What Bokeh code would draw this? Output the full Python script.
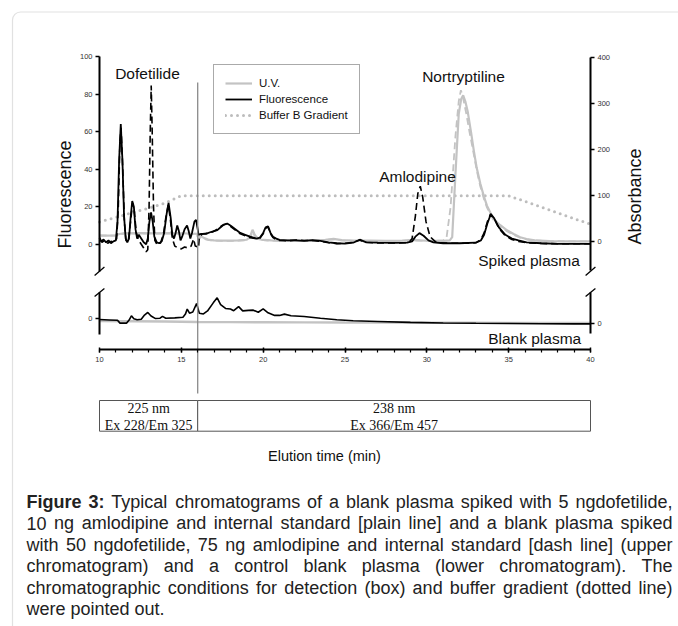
import math
from bokeh.plotting import figure
from bokeh.models import (Range1d, LinearAxis, FixedTicker, SingleIntervalTicker,
                          Legend, LegendItem, BoxAnnotation)
from bokeh.core.properties import value
from bokeh.embed import file_html
from bokeh.resources import INLINE

# ---------------- data ----------------
# upper chromatogram: fluorescence, spiked plasma (low spike, plain line)
FL_PLAIN_T = [10.0, 10.1, 10.25, 10.4, 10.55, 10.7, 10.85, 11.0, 11.1, 11.2, 11.3, 11.4, 11.5, 11.6, 11.7, 11.8,
              11.9, 12.0, 12.1, 12.2, 12.3, 12.4, 12.55, 12.7, 12.85, 12.95, 13.05, 13.15, 13.25, 13.35, 13.5,
              13.65, 13.8, 13.95, 14.1, 14.22, 14.35, 14.45, 14.55, 14.65, 14.75, 14.85, 14.95, 15.05, 15.2,
              15.35, 15.45, 15.55, 15.65, 15.8, 15.9, 16.0, 16.05, 16.2, 16.5, 16.8, 17.0, 17.2, 17.4, 17.6,
              17.8, 18.0, 18.3, 18.6, 18.9, 19.2, 19.4, 19.6, 19.8, 20.0, 20.15, 20.3, 20.45, 20.6, 20.8, 21.0,
              21.5, 22.0, 22.5, 23.0, 23.5, 24.0, 24.5, 25.0, 25.5, 25.9, 26.3, 27.0, 28.0, 28.8, 29.1, 29.3,
              29.55, 29.8, 30.1, 30.4, 31.0, 32.0, 33.0, 33.3, 33.5, 33.7, 33.9, 34.1, 34.4, 34.8, 35.2, 35.6,
              36.1, 37.0, 38.0, 39.0, 40.0]
FL_PLAIN_V = [3.5, 1.5, 2.5, 1, 2, 0.5, 1.5, 2, 12, 45, 64, 45, 15, 3, 1, 3,
              14, 23, 20, 8, 3, 5, 3, 1, 0, 3, 12, 17, 12, 4, 1,
              0.5, 1.5, 6, 16, 22, 14, 5, 3, 6, 10, 7, 2, 4, 8,
              10, 7, 3, 6, 12, 13, 8, 5, 5.5, 5.5, 6.5, 7, 7.5, 9, 10.5,
              11, 10, 8, 6, 5, 4, 3.5, 3, 3.5, 6, 9, 9.5, 6, 4, 3, 2.3,
              2, 2, 1.8, 2.2, 1.8, 1, 0.5, 0.3, 0.8, 2.4, 1, 0.8, 0.7, 0.8, 1.5, 4,
              5.9, 4.5, 2, 1, 0.5, 0.5, 0.8, 2, 5, 11, 15.8, 14, 9, 5, 3, 2,
              1, 0.5, 0.2, 0.2, 0.2]

# upper chromatogram: fluorescence, spiked plasma (high spike, dash line)
FL_DASH_T = [10.0, 10.15, 10.3, 10.5, 10.7, 10.9, 11.05, 11.15, 11.25, 11.32, 11.42, 11.52, 11.62, 11.75, 11.9,
             12.02, 12.12, 12.25, 12.4, 12.55, 12.7, 12.85, 12.95, 13.03, 13.1, 13.16, 13.22, 13.3, 13.38,
             13.5, 13.7, 13.9, 14.05, 14.2, 14.32, 14.45, 14.6, 14.8, 15.0, 15.2, 15.4, 15.6, 15.75, 15.85,
             16.0, 16.05, 16.1, 16.3, 16.6, 16.9, 17.2, 17.5, 17.75, 18.0, 18.3, 18.6, 18.9, 19.2, 19.5,
             19.8, 20.0, 20.15, 20.3, 20.45, 20.6, 20.8, 21.0, 21.5, 22.0, 22.5, 23.0, 23.5, 24.0, 24.5,
             25.0, 25.5, 25.9, 26.3, 27.0, 28.0, 28.9, 29.1, 29.3, 29.45, 29.6, 29.75, 29.95, 30.2, 30.5,
             30.8, 31.5, 32.5, 33.0, 33.3, 33.5, 33.7, 33.9, 34.1, 34.4, 34.8, 35.2, 35.6, 36.1, 37.0, 38.0,
             39.0, 40.0]
FL_DASH_V = [3, 1, 2, 0.5, 1.5, 1, 3, 20, 55, 62, 40, 12, 2, 1, 12,
             22, 18, 6, 2, 0, -2, -4, -3, 20, 60, 84.5, 60, 20, 2,
             0, 0, 5, 14, 21, 14, 3, -1, -2, -2.5, -1.5, -2, -1, 2.8, -1,
             -1.5, -2, 4, 5.5, 5.8, 6.5, 8, 10, 10.8, 9.5, 7.5, 5.5, 4.5, 3.5, 3,
             3.2, 5.5, 8.5, 9.2, 5.5, 3.5, 2.5, 2, 1.8, 2.2, 2, 2.0, 1.5, 0.8, 0.3,
             0.5, 1, 2.2, 1, 0.6, 0.6, 0.8, 3, 15, 27, 30.9, 25, 12, 4, 1.5,
             0.8, 0.5, 0.5, 0.8, 2.5, 6, 12, 16.2, 14, 8.5, 4.5, 2.5, 1.5, 0.8, 0.4, 0.2,
             0.2, 0.2]

# upper chromatogram: U.V. absorbance (plain line)
UV_PLAIN_T = [10.0, 10.5, 11.0, 11.2, 11.5, 12.5, 13.5, 14.5, 15.5, 15.95, 16.05, 16.2, 16.4, 16.7, 17.0, 17.5,
              18.0, 18.5, 19.0, 19.2, 19.35, 19.5, 19.7, 20.0, 20.5, 21.0, 22.0, 23.0, 23.8, 24.3, 24.8,
              25.5, 26.5, 27.5, 28.5, 29.2, 29.6, 30.0, 30.5, 31.0, 31.4, 31.55, 31.75, 31.95, 32.1, 32.22,
              32.35, 32.5, 32.7, 32.87, 33.05, 33.27, 33.5, 33.68, 33.9, 34.08, 34.3, 34.49, 34.9, 35.3,
              35.7, 36.1, 36.6, 37.5, 38.5, 40.0]
UV_PLAIN_V = [14, 13.5, 14, 17, 18.5, 19, 18.5, 19, 18, 17, 8, 12, 8, 4, 3, 2.5,
              2.5, 3, 4.5, 11, 26, 14, 6, 4, 3, 2.5, 2.5, 3, 4.5, 6.5, 3.5,
              2.5, 2.5, 2, 2.5, 4, 3, 2.5, 2, 2, 3, 10, 148, 278, 310, 318,
              305, 282, 238, 198, 160, 126, 97, 78, 62, 50, 42, 36, 25, 17,
              10, 6, 3, 1.5, 1, 1]

# upper chromatogram: U.V. absorbance (dash line)
UV_DASH_T = [10.0, 10.5, 11.0, 11.2, 11.5, 12.5, 13.5, 14.5, 15.5, 15.95, 16.05, 16.2, 16.4, 16.7, 17.0, 17.5,
             18.0, 18.5, 19.0, 19.2, 19.35, 19.5, 19.7, 20.0, 20.5, 21.0, 22.0, 23.0, 23.8, 24.3, 24.8,
             25.5, 26.5, 27.5, 28.5, 29.2, 29.6, 30.0, 30.5, 31.0, 31.2, 31.45, 31.75, 31.95, 32.08, 32.2,
             32.4, 32.6, 32.87, 33.05, 33.27, 33.5, 33.68, 33.9, 34.08, 34.3, 34.49, 34.9, 35.3, 35.7,
             36.1, 36.6, 37.5, 38.5, 40.0]
UV_DASH_V = [13, 13.5, 13.5, 16, 18, 18.5, 18, 18.5, 17.5, 16, 6, 10, 6, 3.5, 2.5, 2,
             2, 2.5, 3.5, 9, 22, 12, 5, 3.5, 2.5, 2, 2, 2.5, 3.5, 5.5, 3,
             2, 2, 2, 2, 3, 2.5, 2, 2, 3, 8, 75, 230, 305, 329, 315,
             280, 240, 190, 155, 120, 92, 74, 58, 47, 39, 33, 23, 15, 9,
             5, 3, 1.5, 1, 1]

# buffer B gradient (%)
GRAD_T = [10.0, 11.0, 12.0, 13.0, 14.0, 14.5, 15.0, 35.0, 40.0]
GRAD_V = [43, 53, 63, 73, 84, 92, 100, 100, 38]

# lower chromatogram: blank plasma
FL_BLANK_T = [10.0, 10.6, 11.1, 11.25, 11.65, 11.8, 11.95, 12.1, 12.3, 12.55, 12.75, 12.95, 13.15, 13.4, 13.7,
              13.85, 14.05, 14.6, 15.1, 15.25, 15.36, 15.5, 15.7, 15.93, 16.1, 16.35, 16.6, 16.95, 17.19,
              17.4, 17.7, 18.0, 18.2, 18.5, 18.75, 19.1, 19.4, 19.7, 20.0, 20.3, 20.7, 21.0, 21.3, 21.7,
              22.5, 23.5, 24.5, 25.5, 27.0, 29.0, 31.0, 33.0, 35.0, 37.0, 39.0, 40.0]
FL_BLANK_V = [-0.4, -0.6, -0.8, -2.3, -2.3, -0.8, 1.6, 0, -0.5, -0.2, 2, 3.4, 1.5, 0.2, 0.3,
              1.3, 0.3, 0.5, 0.8, 2.5, 5.2, 3, 3.6, 8.1, 3, 2.6, 4.2, 8.5, 11.2,
              7.5, 5.5, 5.2, 4.3, 6.5, 4.2, 4.5, 4.6, 3.5, 5.3, 3.2, 1.8, 1.8, 2.5, 1.6,
              1.2, 0.3, -0.5, -1.0, -1.4, -1.9, -2.2, -2.4, -2.5, -2.6, -2.7, -2.7]
UV_BLANK_T = [10.0, 12.0, 14.0, 16.0, 18.0, 20.0, 22.5, 25.0, 27.5, 30.0, 32.5, 35.0, 37.5, 40.0]
UV_BLANK_V = [4.5, 4.2, 3.6, 2.6, 2.3, 2.0, 1.8, 1.5, 1.3, 1.0, 0.9, 0.8, 0.6, 0.5]

# detection windows (box)
DET_START = [10, 16]
DET_END = [16, 40]
DET_LABELS = ["225 nm\nEx 228/Em 325", "238 nm\nEx 366/Em 457"]

FLU_TICKS = [0, 20, 40, 60, 80, 100]
ABS_TICKS = [0, 100, 200, 300, 400]

CAPTION = [
    [("Figure", True), ("3:", True), ("Typical", False), ("chromatograms", False), ("of", False), ("a", False),
     ("blank", False), ("plasma", False), ("spiked", False), ("with", False), ("5", False), ("ngdofetilide,", False)],
    "10 ng amlodipine and internal standard [plain line] and a blank plasma spiked",
    "with 50 ngdofetilide, 75 ng amlodipine and internal standard [dash line] (upper",
    "chromatogram) and a control blank plasma (lower chromatogram). The",
    "chromatographic conditions for detection (box) and buffer gradient (dotted line)",
    "were pointed out.",
]

# ---------------- layout helpers ----------------
W, H = 678, 626
OFF = 0
FONT = "Liberation Sans"

def rng(v0, p0, v1, p1, vertical):
    s = (p1 - p0) / (v1 - v0)
    if vertical:
        return Range1d(start=v0 + (OFF + H - p0) / s, end=v0 + (OFF - p0) / s)
    return Range1d(start=v0 + (OFF - p0) / s, end=v0 + (OFF + W - p0) / s)

p = figure(width=W, height=H, output_backend="svg", toolbar_location=None, tools="",
           x_range=Range1d(OFF, OFF + W), y_range=Range1d(OFF + H, OFF),
           x_axis_location=None, y_axis_location=None, min_border=0, title=None)
p.outline_line_color = None
p.xgrid.visible = False
p.ygrid.visible = False

p.extra_x_ranges = {"time": rng(10, 99, 40, 590, False)}
p.extra_y_ranges = {
    "flu_up": rng(0, 243.7, 100, 56, True),
    "abs_up": rng(0, 241.3, 400, 57, True),
    "flu_low": rng(0, 318.3, 100, 130.6, True),
    "abs_low": rng(0, 322.7, 400, 138.4, True),
}

# frame border of the figure panel
p.add_layout(BoxAnnotation(left=12, right=740, top=11.5, bottom=740, border_radius=8,
                           fill_alpha=0, line_color="#9a9a9a", line_width=1.2))

# ---------------- axes ----------------
def style(ax):
    ax.axis_line_width = 2
    ax.axis_line_color = "black"
    ax.major_label_text_font = FONT
    ax.major_label_text_font_size = "7.5px"
    ax.major_label_text_color = "#333333"
    ax.major_tick_in = 0
    ax.major_tick_out = 4
    ax.major_tick_line_width = 1.5
    ax.minor_tick_line_color = None
    ax.major_label_standoff = 3

ax1 = LinearAxis(x_range_name="time", y_range_name="flu_up", fixed_location=10,
                 bounds=(-14.5, 100), ticker=FixedTicker(ticks=FLU_TICKS))
style(ax1)
p.add_layout(ax1, "left")

ax2 = LinearAxis(x_range_name="time", y_range_name="abs_up", fixed_location=40,
                 bounds=(-62, 400), ticker=FixedTicker(ticks=ABS_TICKS))
style(ax2)
p.add_layout(ax2, "right")

ax3 = LinearAxis(x_range_name="time", y_range_name="flu_low", fixed_location=10,
                 bounds=(-8.4, 14), ticker=FixedTicker(ticks=[0]))
style(ax3)
p.add_layout(ax3, "left")

ax4 = LinearAxis(x_range_name="time", y_range_name="abs_low", fixed_location=40,
                 bounds=(-22.4, 66), ticker=FixedTicker(ticks=[0]))
style(ax4)
p.add_layout(ax4, "right")

axb = LinearAxis(x_range_name="time", fixed_location=349.3, bounds=(10, 40),
                 ticker=SingleIntervalTicker(interval=5, num_minor_ticks=5))
style(axb)
axb.major_tick_in = 2
axb.major_tick_out = 3
axb.minor_tick_line_color = "black"
axb.minor_tick_line_width = 1.2
axb.minor_tick_in = 0
axb.minor_tick_out = 3
axb.major_label_standoff = 4
p.add_layout(axb, "below")

# axis break marks
for tx in (10, 40):
    p.segment(x0=[tx - 0.3, tx - 0.3], x1=[tx + 0.3, tx + 0.3], y0=[275, 296], y1=[266.5, 288],
              x_range_name="time", line_color="black", line_width=1.3)

# ---------------- traces ----------------
GRAY = "#c3c3c3"
r_grad = p.line(GRAD_T, GRAD_V, x_range_name="time", y_range_name="abs_up",
                line_color="#bdbdbd", line_width=3, line_dash="0 6", line_cap="round")
r_uv = p.line(UV_PLAIN_T, UV_PLAIN_V, x_range_name="time", y_range_name="abs_up",
              line_color=GRAY, line_width=2.2)
p.line(UV_DASH_T, UV_DASH_V, x_range_name="time", y_range_name="abs_up",
       line_color=GRAY, line_width=1.8, line_dash="7 4")
r_fl = p.line(FL_PLAIN_T, FL_PLAIN_V, x_range_name="time", y_range_name="flu_up",
              line_color="black", line_width=1.8)
p.line(FL_DASH_T, FL_DASH_V, x_range_name="time", y_range_name="flu_up",
       line_color="black", line_width=1.6, line_dash="7 4")

p.line(UV_BLANK_T, UV_BLANK_V, x_range_name="time", y_range_name="abs_low",
       line_color=GRAY, line_width=2.4)
p.line(FL_BLANK_T, FL_BLANK_V, x_range_name="time", y_range_name="flu_low",
       line_color="black", line_width=1.6)

# detector switch line
p.segment(x0=[DET_END[0]], x1=[DET_END[0]], y0=[82], y1=[393], x_range_name="time",
          line_color="#8a8a8a", line_width=1.3)

# detection box
p.quad(left=DET_START, right=DET_END, top=400, bottom=430.7, x_range_name="time",
       fill_color="white", line_color="#555555", line_width=1)
p.text(x=[(a + b) / 2 for a, b in zip(DET_START, DET_END)], y=[400.5] * 2, text=DET_LABELS,
       x_range_name="time", text_font=value("Liberation Serif"), text_font_size="14px",
       text_align="center", text_baseline="top", text_color="#111111", text_line_height=1.1)

# ---------------- labels ----------------
def lab(x, y, t, size="15.5px", align="center", xr="time", yr="flu_up", angle=0.0):
    p.text(x=[x], y=[y], text=[t], x_range_name=xr, y_range_name=yr, angle=angle,
           text_font=value(FONT), text_font_size=size, text_align=align,
           text_baseline="middle", text_color="#111111")

lab(12.93, 91, "Dofetilide")
lab(32.24, 358, "Nortryptiline", yr="abs_up")
lab(29.43, 36, "Amlodipine")
lab(39.35, -8.7, "Spiked plasma", align="right")
lab(39.43, -10.3, "Blank plasma", align="right", yr="flu_low")

p.text(x=[64, 634], y=[194, 196], text=["Fluorescence", "Absorbance"], angle=math.pi / 2,
       text_font=value(FONT), text_font_size="18px", text_align="center",
       text_baseline="middle", text_color="#111111")
p.text(x=[324], y=[455], text=["Elution time (min)"], text_font=value(FONT),
       text_font_size="14.5px", text_align="center", text_baseline="middle", text_color="#111111")

# ---------------- legend ----------------
legend = Legend(items=[LegendItem(label="U.V.", renderers=[r_uv]),
                       LegendItem(label="Fluorescence", renderers=[r_fl]),
                       LegendItem(label="Buffer B Gradient", renderers=[r_grad])],
                location=(213 - OFF, OFF + H - 134))
legend.label_text_font = FONT
legend.label_text_font_size = "11.5px"
legend.label_text_color = "#111111"
legend.glyph_width = 27
legend.glyph_height = 14
legend.label_height = 14
legend.spacing = 2
legend.padding = 11
legend.margin = 0
legend.label_standoff = 7
legend.border_line_color = "#555555"
legend.border_line_width = 1
legend.background_fill_alpha = 1
p.add_layout(legend, "center")

# ---------------- caption (justified) ----------------
AW = {' ': 278, '(': 333, ')': 333, ',': 278, '.': 278, '/': 278, ':': 278, '[': 278, ']': 278,
      'T': 611, 'F': 611,
      'a': 556, 'b': 556, 'c': 500, 'd': 556, 'e': 556, 'f': 278, 'g': 556, 'h': 556, 'i': 222,
      'k': 500, 'l': 222, 'm': 833, 'n': 556, 'o': 556, 'p': 556, 'r': 333, 's': 500, 't': 278,
      'u': 556, 'w': 722, 'x': 500, 'y': 500}
AWB = {'F': 611, 'i': 278, 'g': 611, 'u': 611, 'r': 389, 'e': 556, ':': 333}
CAP_SIZE = 18
CAP_L, CAP_R = 26, 672
CAP_Y0, CAP_DY = 501, 21.5

def width(word, bold):
    tab = AWB if bold else AW
    return sum(tab.get(c, 556) for c in word) * CAP_SIZE / 1000.0

for i, line in enumerate(CAPTION):
    words = line if isinstance(line, list) else [(w, False) for w in line.split()]
    ws = [width(w, b) for w, b in words]
    justify = i < len(CAPTION) - 1
    gap = (CAP_R - CAP_L - sum(ws)) / (len(words) - 1) if justify else AW[' '] * CAP_SIZE / 1000.0
    x = CAP_L
    y = CAP_Y0 + i * CAP_DY
    for (w, b), wd in zip(words, ws):
        p.text(x=[x], y=[y], text=[w], text_font=value(FONT), text_font_size=f"{CAP_SIZE}px",
               text_font_style="bold" if b else "normal", text_align="left",
               text_baseline="alphabetic", text_color="#222222")
        x += wd + gap

open("out.html", "w").write(file_html(p, INLINE))
